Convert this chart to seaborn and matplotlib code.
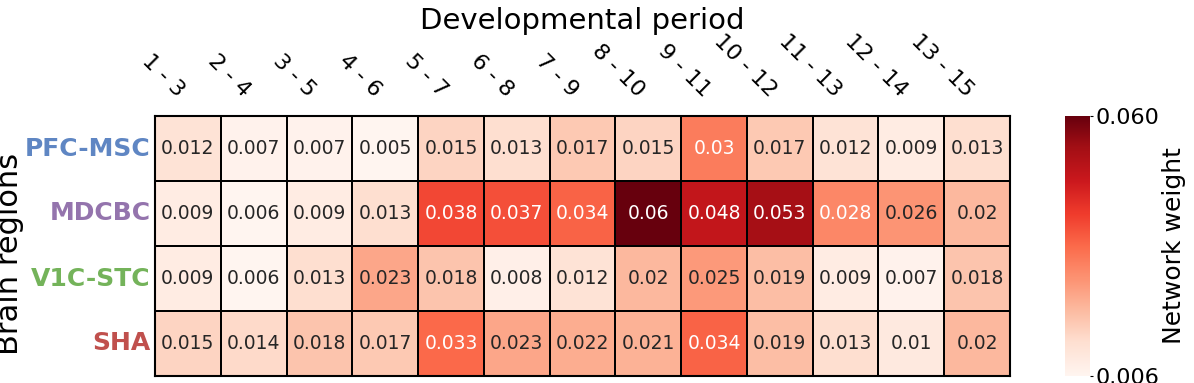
import pandas as pd
import seaborn as sns
import matplotlib.pyplot as plt

periods = ['1 - 3', '2 - 4', '3 - 5', '4 - 6', '5 - 7', '6 - 8', '7 - 9',
           '8 - 10', '9 - 11', '10 - 12', '11 - 13', '12 - 14', '13 - 15']
regions = ['PFC-MSC', 'MDCBC', 'V1C-STC', 'SHA']
region_colors = ['#5f86c3', '#9474ad', '#74b35a', '#c0504d']

pfc_msc = [0.012, 0.007, 0.007, 0.005, 0.015, 0.013, 0.017, 0.015, 0.03, 0.017, 0.012, 0.009, 0.013]
mdcbc = [0.009, 0.006, 0.009, 0.013, 0.038, 0.037, 0.034, 0.06, 0.048, 0.053, 0.028, 0.026, 0.02]
v1c_stc = [0.009, 0.006, 0.013, 0.023, 0.018, 0.008, 0.012, 0.02, 0.025, 0.019, 0.009, 0.007, 0.018]
sha = [0.015, 0.014, 0.018, 0.017, 0.033, 0.023, 0.022, 0.021, 0.034, 0.019, 0.013, 0.01, 0.02]

df = pd.DataFrame([pfc_msc, mdcbc, v1c_stc, sha], index=regions, columns=periods)

W, H = 1194, 383
fig = plt.figure(figsize=(W / 100, H / 100), dpi=100)
ax = fig.add_axes([155 / W, 1 - 376 / H, 855 / W, 260 / H])
cax = fig.add_axes([1065 / W, 1 - 376 / H, 25 / W, 260 / H])

sns.heatmap(df, ax=ax, cbar_ax=cax, cmap='Reds', vmin=0.006, vmax=0.06,
            annot=True, fmt='g', annot_kws={'fontsize': 13.5},
            linewidths=1.3, linecolor='black')

# etiquetas arriba, rotadas
ax.xaxis.tick_top()
ax.tick_params(axis='both', length=0)
ax.tick_params(axis='x', pad=11)
ax.tick_params(axis='y', pad=3)
ax.set_xticklabels(periods, rotation=-45, ha='right', va='bottom', fontsize=16)
ax.set_yticklabels(regions, rotation=0, fontsize=18, fontweight='bold')
for lbl, c in zip(ax.get_yticklabels(), region_colors):
    lbl.set_color(c)

for s in ax.spines.values():
    s.set_visible(True)
    s.set_linewidth(1.5)
    s.set_color('black')

ax.set_xlabel('Developmental period', fontsize=21)
ax.xaxis.set_label_position('top')
ax.xaxis.set_label_coords(0.5, 1.335)
ax.set_ylabel('Brain regions', fontsize=22)
ax.yaxis.set_label_coords(-0.153, 0.47)

# barra de color
cbar = ax.collections[0].colorbar
cbar.set_ticks([0.006, 0.06])
cbar.set_ticklabels(['0.006', '0.060'])
cax.tick_params(labelsize=16, length=2, width=0.8, pad=2)
cbar.set_label('Network weight', fontsize=18)
cax.yaxis.set_label_coords(3.9, 0.5)

plt.savefig('out.png', dpi=100)
